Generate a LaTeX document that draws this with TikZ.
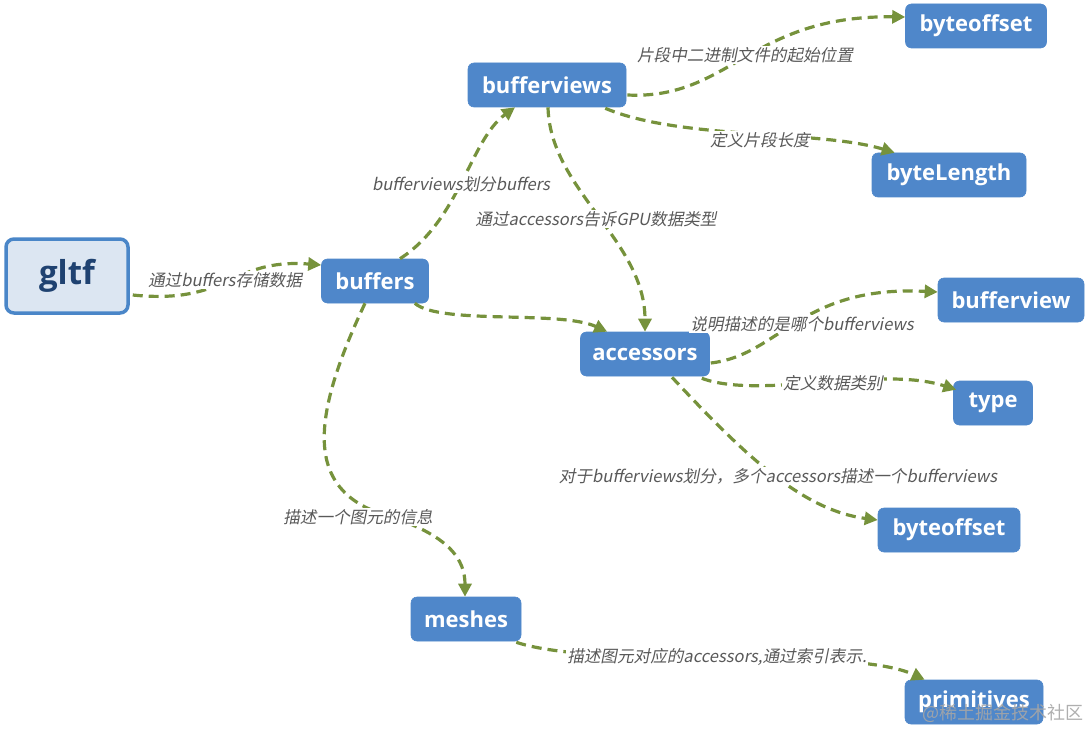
\documentclass[tikz,border=0pt]{standalone}
\usepackage{fontspec}
\setmainfont{Open Sans}
\newfontfamily\nodefont{Open Sans}
\newfontfamily\labfont[FakeSlant=0.2]{Noto Sans CJK SC}
\newfontfamily\wmfont{Noto Sans CJK SC}
\usetikzlibrary{arrows.meta,calc}
\definecolor{boxblue}{HTML}{4F87CA}
\definecolor{edgegreen}{HTML}{76923C}
\definecolor{labgray}{HTML}{595959}
\definecolor{rootfill}{HTML}{DCE6F2}
\definecolor{rootline}{HTML}{4A86C8}
\definecolor{roottext}{HTML}{1F4271}
\begin{document}
\begin{tikzpicture}[x=1pt,y=-1pt,
  box/.style={rectangle, rounded corners=6pt, fill=boxblue, draw=boxblue, line width=0.6pt,
    text=white, font=\nodefont\bfseries\fontsize{22}{25}\selectfont,
    minimum height=44pt, inner sep=0pt},
  rootbox/.style={rectangle, rounded corners=8pt, fill=rootfill, draw=rootline, line width=3.5pt,
    text=roottext, font=\nodefont\bfseries\fontsize{33}{38}\selectfont,
    minimum width=122pt, minimum height=74pt, inner sep=0pt},
  link/.style={draw=edgegreen, line width=3.2pt, dash pattern=on 10pt off 6pt,
    -{Triangle[length=13pt,width=13pt]}},
  lab/.style={font=\labfont\fontsize{16.6}{19}\selectfont, text=labgray, fill=white, inner sep=1pt},
  wm/.style={font=\wmfont\fontsize{18}{20}\selectfont, text=gray!70, opacity=0.9}]
\useasboundingbox (0,0) rectangle (1089,730);

% nodes
\node[rootbox] (gltf) at (67,276) {gltf};
\node[box, minimum width=107pt] (buffers) at (375,281) {buffers};
\node[box, minimum width=158pt] (bufferviews) at (547,85) {bufferviews};
\node[box, minimum width=141pt] (byteoffsetA) at (976,26) {byteoffset};
\node[box, minimum width=154pt] (byteLength) at (949,175) {byteLength};
\node[box, minimum width=129pt] (accessors) at (645,354) {accessors};
\node[box, minimum width=146pt] (bufferview) at (1011,300) {bufferview};
\node[box, minimum width=79pt] (type) at (993,403) {type};
\node[box, minimum width=142pt] (byteoffsetB) at (949,530) {byteoffset};
\node[box, minimum width=110pt] (meshes) at (466,619) {meshes};
\node[box, minimum width=138pt] (primitives) at (974,702) {primitives};

% connectors
\draw[link] ($(gltf.east)+(3,19)$) .. controls (230,305) and (230,258) .. ($(buffers.west)+(0,-16)$);
\draw[link] ($(buffers.north)+(25,0)$) .. controls (460,220) and (470,140) .. ($(bufferviews.south)+(-32,0)$);
\draw[link] ($(buffers.south east)+(-14,0)$) .. controls (440,325) and (560,310) .. ($(accessors.north west)+(27,0)$);
\draw[link] ($(bufferviews.south)+(1,0)$) .. controls (550,190) and (645,240) .. (accessors.north);
\draw[link] ($(buffers.south)+(-10,0)$) .. controls (310,420) and (305,490) .. (385,515)
  .. controls (450,535) and (465,560) .. ($(meshes.north)+(-1,0)$);
\draw[link] ($(bufferviews.east)+(1,10)$) .. controls (730,100) and (750,15) .. ($(byteoffsetA.west)+(0,-9)$);
\draw[link] ($(bufferviews.south east)+(-21,1)$) .. controls (680,140) and (820,130) .. ($(byteLength.north west)+(23,0)$);
\draw[link] ($(accessors.east)+(1,9)$) .. controls (780,355) and (800,285) .. ($(bufferview.west)+(0,-8)$);
\draw[link] ($(accessors.south east)+(-8,2)$) .. controls (760,400) and (880,365) .. ($(type.north west)+(3,9)$);
\draw[link] ($(accessors.south)+(27,1)$) .. controls (740,450) and (800,510) .. ($(byteoffsetB.west)+(0,-10)$);
\draw[link] ($(meshes.south east)+(-5,1)$) .. controls (600,670) and (850,645) .. ($(primitives.north west)+(20,0)$);

% labels
\node[lab] (l1) at (225,280) {通过buffers存储数据};
\node[lab] (l2) at (461,184) {bufferviews划分buffers};
\node[lab] (l3) at (596,219) {通过accessors告诉GPU数据类型};
\node[lab] (l4) at (745,55) {片段中二进制文件的起始位置};
\node[lab] (l5) at (760,140) {定义片段长度};
\node[lab] (l6) at (802,324) {说明描述的是哪个bufferviews};
\node[lab] (l7) at (833,383) {定义数据类别};
\node[lab] (l8) at (778,476) {对于bufferviews划分，多个accessors描述一个bufferviews};
\node[lab] (l9) at (358,517) {描述一个图元的信息};
\node[lab] (l10) at (717,657) {描述图元对应的accessors,通过索引表示.};

% watermark
\node[wm] (wmark) at (1003,713) {@稀土掘金技术社区};
\end{tikzpicture}
\end{document}
